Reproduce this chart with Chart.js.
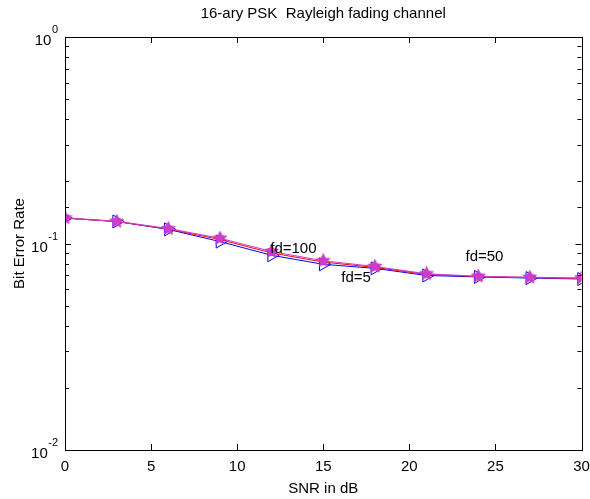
<!DOCTYPE html>
<html>
<head>
<meta charset="utf-8">
<script src="https://cdn.jsdelivr.net/npm/chart.js@4"></script>
<style>
  html, body { margin: 0; padding: 0; background: #fff; }
  #wrap { width: 590px; height: 499px; }
</style>
</head>
<body>
<div id="wrap"><canvas id="c" width="590" height="499"></canvas></div>
<script>
// ---- data ----
const snr = [0, 3, 6, 9, 12, 15, 18, 21, 24, 27, 30];
const berFd5   = [0.1327, 0.1278, 0.1170, 0.1022, 0.0877, 0.0793, 0.0758, 0.0700, 0.0689, 0.0680, 0.0673];
const berFd50  = [0.1327, 0.1278, 0.1175, 0.1045, 0.0900, 0.0813, 0.0766, 0.0708, 0.0692, 0.0684, 0.0678];
const berFd100 = [0.1330, 0.1280, 0.1180, 0.1060, 0.0915, 0.0825, 0.0774, 0.0713, 0.0694, 0.0686, 0.0680];
const xTicks = [0, 5, 10, 15, 20, 25, 30];
const yMajorExp = [0, -1, -2];
const titleText = '16-ary PSK  Rayleigh fading channel';
const xTitle = 'SNR in dB';
const yTitle = 'Bit Error Rate';
const annotations = [
  { text: 'fd=100', x: 11.92, y: 0.0943 },
  { text: 'fd=5',   x: 16.05, y: 0.0682 },
  { text: 'fd=50',  x: 23.26, y: 0.0865 }
];

const FONT = '"Liberation Sans", Arial, Helvetica, sans-serif';
const MAGENTA = 'rgb(205,60,200)';

function makeStar(r, color) {
  const s = Math.ceil(2 * r + 2);
  const cv = document.createElement('canvas');
  cv.width = s; cv.height = s;
  const c = cv.getContext('2d');
  const cx = s / 2, cy = s / 2, ri = r * 0.5;
  c.beginPath();
  for (let i = 0; i < 10; i++) {
    const rr = i % 2 === 0 ? r : ri;
    const a = -Math.PI / 2 + i * Math.PI / 5;
    const px = cx + rr * Math.cos(a), py = cy + rr * Math.sin(a);
    if (i === 0) c.moveTo(px, py); else c.lineTo(px, py);
  }
  c.closePath();
  c.fillStyle = color; c.fill();
  c.strokeStyle = color; c.lineWidth = 1.2; c.stroke();
  return cv;
}
const starImg = makeStar(6.5, MAGENTA);

const framePlugin = {
  id: 'frame',
  afterDraw(chart) {
    const ctx = chart.ctx;
    const a = chart.chartArea;
    const xs = chart.scales.x, ys = chart.scales.y;
    ctx.save();
    ctx.strokeStyle = '#000';
    ctx.lineWidth = 1;
    ctx.strokeRect(Math.round(a.left) + 0.5, Math.round(a.top) + 0.5,
                   Math.round(a.right - a.left), Math.round(a.bottom - a.top));
    // x ticks inward top & bottom
    ctx.beginPath();
    xTicks.forEach(v => {
      const px = Math.round(xs.getPixelForValue(v)) + 0.5;
      ctx.moveTo(px, a.bottom); ctx.lineTo(px, a.bottom - 6);
      ctx.moveTo(px, a.top); ctx.lineTo(px, a.top + 6);
    });
    // y ticks (log, minor) inward left & right
    ys.ticks.forEach(t => {
      const py = Math.round(ys.getPixelForValue(t.value)) + 0.5;
      const major = Math.abs(Math.log10(t.value) - Math.round(Math.log10(t.value))) < 1e-9;
      const len = major ? 6 : 4;
      ctx.moveTo(a.left, py); ctx.lineTo(a.left + len, py);
      ctx.moveTo(a.right, py); ctx.lineTo(a.right - len, py);
    });
    ctx.stroke();

    ctx.fillStyle = '#000';
    // x tick labels
    ctx.font = '15px ' + FONT;
    ctx.textAlign = 'center';
    ctx.textBaseline = 'middle';
    xTicks.forEach(v => {
      ctx.fillText(String(v), xs.getPixelForValue(v), a.bottom + 17);
    });

    // y tick labels 10^n with superscript
    yMajorExp.forEach(e => {
      const py = ys.getPixelForValue(Math.pow(10, e));
      const exp = String(e);
      ctx.font = '11px ' + FONT;
      const ew = ctx.measureText(exp).width;
      const right = a.left - 7;
      ctx.textAlign = 'right';
      ctx.textBaseline = 'alphabetic';
      ctx.fillText(exp, right, py - 4);
      ctx.font = '15px ' + FONT;
      ctx.fillText('10', right - ew - 0.5, py + 8);
    });

    // title
    ctx.font = '15px ' + FONT;
    ctx.textAlign = 'center';
    ctx.textBaseline = 'middle';
    ctx.fillText(titleText, (a.left + a.right) / 2, 14);

    // annotations
    ctx.font = '15px ' + FONT;
    ctx.textAlign = 'left';
    ctx.textBaseline = 'middle';
    annotations.forEach(an => {
      ctx.fillText(an.text, xs.getPixelForValue(an.x), ys.getPixelForValue(an.y));
    });
    ctx.restore();
  }
};

new Chart(document.getElementById('c'), {
  type: 'line',
  data: {
    labels: snr,
    datasets: [
      {
        label: 'fd=100', data: berFd100,
        borderColor: MAGENTA, backgroundColor: MAGENTA, borderWidth: 1.2,
        pointStyle: starImg, pointRadius: 6.5
      },
      {
        label: 'fd=50', data: berFd50,
        borderColor: 'rgb(255,0,0)', backgroundColor: 'rgb(255,0,0)', borderWidth: 1,
        pointRadius: 0
      },
      {
        label: 'fd=5', data: berFd5,
        borderColor: 'rgb(0,0,255)', backgroundColor: 'rgba(0,0,0,0)', borderWidth: 1,
        pointStyle: 'triangle', pointRotation: 90, pointRadius: 7.5,
        pointBorderColor: 'rgb(0,0,255)', pointBorderWidth: 1
      }
    ].map(d => Object.assign(d, { tension: 0, fill: false }))
  },
  options: {
    responsive: false,
    animation: false,
    devicePixelRatio: 1,
    layout: { padding: { top: 37, right: 8, left: 0, bottom: 0 } },
    plugins: { legend: { display: false }, title: { display: false }, tooltip: { enabled: false } },
    elements: { point: { hitRadius: 0 } },
    scales: {
      x: {
        type: 'linear', min: 0, max: 30,
        grid: { display: false, drawTicks: false },
        border: { display: false },
        ticks: { display: false, stepSize: 5 },
        title: { display: true, text: xTitle, color: '#000',
                 font: { family: FONT, size: 15 }, padding: { top: 0, bottom: 1 } },
        afterFit(s) { s.height = 49; }
      },
      y: {
        type: 'logarithmic', min: 0.01, max: 1,
        grid: { display: false, drawTicks: false },
        border: { display: false },
        ticks: { display: false, autoSkip: false },
        title: { display: true, text: yTitle, color: '#000',
                 font: { family: FONT, size: 15 }, padding: { top: 11, bottom: 0 } },
        afterFit(s) { s.width = 65; }
      }
    }
  },
  plugins: [framePlugin]
});
</script>
</body>
</html>
